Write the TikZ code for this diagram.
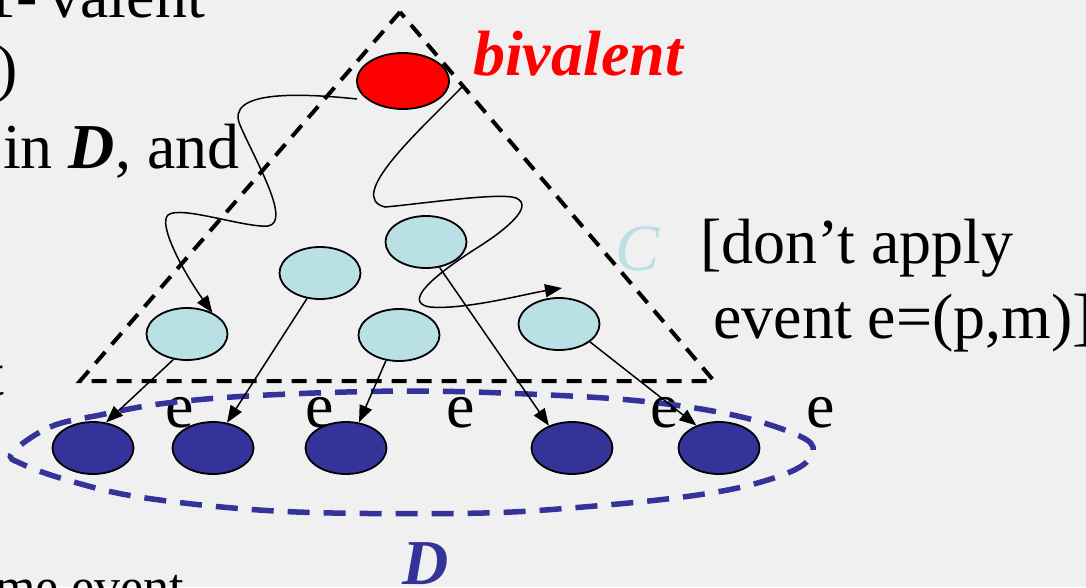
\documentclass[tikz,border=0pt]{standalone}
\usepackage{fontspec}
\setmainfont{Liberation Serif}
\usetikzlibrary{shapes.geometric,arrows.meta}
\definecolor{bg}{HTML}{F0F0F0}
\definecolor{lblue}{HTML}{B9E0E4}
\definecolor{dblue}{HTML}{333399}
\begin{document}
\begin{tikzpicture}[x=1pt,y=-1pt,
 conf/.style={ellipse,draw=black,line width=1.8pt,minimum width=81pt,minimum height=52pt,inner sep=0pt},
 cfg/.style={conf,fill=lblue},
 dcfg/.style={conf,fill=dblue},
 arr/.style={line width=1.5pt,-{Triangle[length=17pt,width=13pt]}},
 tri/.style={line width=4pt,dash pattern=on 15pt off 10pt},
 dset/.style={draw=dblue,line width=5.5pt,dash pattern=on 22pt off 14pt},
 big/.style={font=\fontsize{64}{77}\selectfont,inner sep=0pt},
 small/.style={font=\fontsize{52}{62}\selectfont,inner sep=0pt},
 ]
\useasboundingbox (0,0) rectangle (1086,587);
\fill[bg] (0,0) rectangle (1086,587);
\clip (0,0) rectangle (1086,587);

% dashed triangle C
\draw[tri] (400,12) -- (80,381) -- (714,381) -- cycle;

% e labels
\foreach \x/\n in {180/1,320/2,461/3,665/4,821/5}
  \node[big,anchor=base] (e\n) at (\x,427) {e};

% dashed set D
\draw[dset] plot[smooth cycle,tension=0.6] coordinates {
 (12,453) (50,427) (100,415) (167,403) (267,395) (412,391) (550,395)
 (650,402) (733,415) (790,432) (813,447) (800,467) (750,485) (683,497)
 (583,507) (483,513) (333,513) (233,508) (133,496) (67,480) (22,464)};

% configurations
\node[conf,fill=red,minimum width=92pt,minimum height=56pt] (r) at (403,81) {};
\node[cfg] (c1) at (187,334) {};
\node[cfg] (c2) at (320,273) {};
\node[cfg] (c3) at (426,242) {};
\node[cfg] (c4) at (399,335) {};
\node[cfg] (c5) at (559,324) {};
\node[dcfg] (d1) at (93,448) {};
\node[dcfg] (d2) at (213,448) {};
\node[dcfg] (d3) at (346,448) {};
\node[dcfg] (d4) at (572,448) {};
\node[dcfg] (d5) at (719,448) {};

% e-steps
\draw[arr] (c1.242) -- (d1.63);
\draw[arr] (c2.243) -- (d2.61);
\draw[arr] (c4.243) -- (d3.63);
\draw[arr] (c3.298) -- (d4.136);
\draw[arr] (c5.330) -- (d5.135);

% wavy executions
\coordinate (w1) at (357,99);
\coordinate (w2) at (462,87);
\coordinate (w2e) at (562,288);
\draw[arr] (w1) .. controls (300,93) and (225,90) .. (240,125)
  .. controls (255,160) and (292,222) .. (268,226)
  .. controls (245,228) and (180,205) .. (168,215)
  .. controls (158,224) and (182,270) .. (c1.40);
\draw[arr] (w2) .. controls (420,130) and (345,197) .. (385,207)
  .. controls (420,204) and (500,192) .. (516,198)
  .. controls (535,206) and (505,230) .. (480,246)
  .. controls (445,268) and (398,302) .. (430,307)
  .. controls (465,310) and (525,294) .. (w2e);

% labels
\node[big,anchor=base west,text=red,font=\fontsize{64}{77}\selectfont\bfseries\itshape] (biv) at (473,75) {bivalent};
\node[big,anchor=base west,text=lblue,font=\fontsize{66}{77}\selectfont\itshape] (cl) at (615,270) {C};
\node[big,anchor=base west] (t1) at (700,263) {[don’t apply};
\node[big,anchor=base west] (t2) at (713,338) {event e=(p,m)]};
\node[big,anchor=base west,text=dblue,font=\fontsize{64}{77}\selectfont\bfseries\itshape] (dl) at (402,584) {D};

% cut-off text on the left
\node[big,anchor=base east] (l1) at (205,17) {1-\,valent};
\node[big,anchor=base west] (l2) at (-4,89) {)};
\node[big,anchor=base west] (l3) at (3,168) {in \textbf{\textit{D}}, and};
\node[big,anchor=base east] (l4) at (4,395) {t};
\node[small,anchor=base west] (l5) at (-5,604) {me event};
\end{tikzpicture}
\end{document}
